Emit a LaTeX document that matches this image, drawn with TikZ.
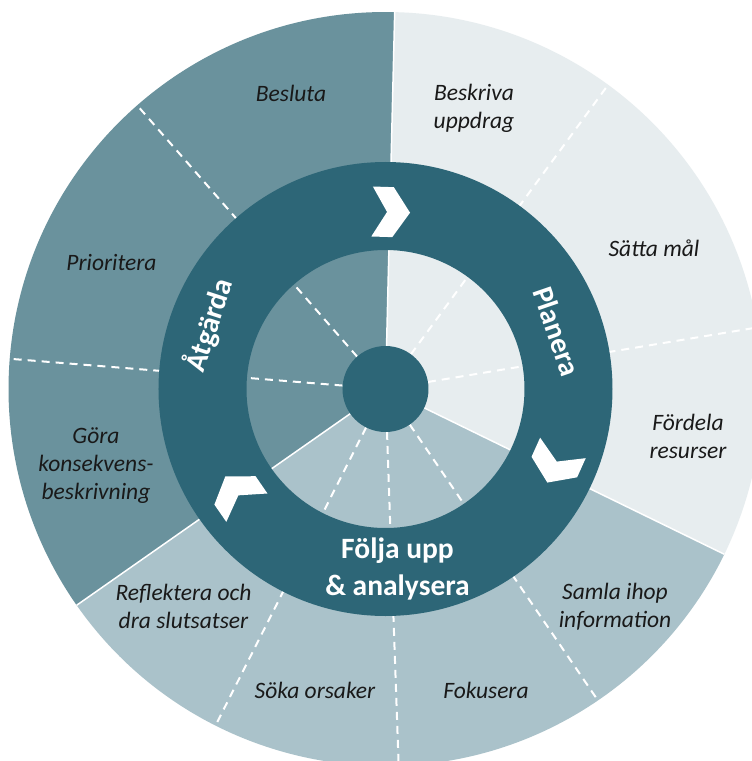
\documentclass[tikz,border=0pt]{standalone}
\usepackage{fontspec}
\setmainfont{Carlito}
\definecolor{ringc}{HTML}{2D6677}
\definecolor{atgc}{HTML}{6A929D}
\definecolor{planc}{HTML}{E7EDEF}
\definecolor{foljc}{HTML}{AAC2CA}
\tikzset{
  sepline/.style={white, line width=2pt, dash pattern=on 8pt off 6pt},
  bound/.style={white, line width=1.5pt},
  lbl/.style={font=\fontsize{23.5}{28}\selectfont\itshape, align=center, inner sep=0pt, text=black!90},
  phase/.style={font=\fontsize{29.5}{37}\selectfont\bfseries, text=white, align=center, inner sep=0pt},
  chevron/.style={white}
}
\begin{document}
\begin{tikzpicture}[x=1pt,y=1pt]
\clip (-385.5,-372) rectangle (366.5,389);
\fill[white] (-385.5,-372) rectangle (366.5,389);
% sectors
\def\R{377}
\fill[planc] (0,0) -- (-26:\R) arc[start angle=-26, end angle=88.6, radius=\R] -- cycle;
\fill[atgc] (0,0) -- (88.6:\R) arc[start angle=88.6, end angle=215, radius=\R] -- cycle;
\fill[foljc] (0,0) -- (215:\R) arc[start angle=215, end angle=334, radius=\R] -- cycle;
% dashed separators
\foreach \a in {131.2,175.4,53.8,9.4,-55.7,-88,243.2}{
  \draw[sepline] (\a:43) -- (\a:\R);
}
% sector boundaries
\foreach \a in {88.6,-26,215}{
  \draw[bound] (0,0) -- (\a:\R);
}
% ring and hub
\fill[ringc, even odd rule] (0,0) circle[radius=227] (0,0) circle[radius=139];
\fill[ringc] (0,0) circle[radius=43];
% chevrons
\fill[chevron, shift={(88.2:177)}, rotate=-1.8] (19,0) -- (2,25) -- (-19,25) -- (-4,0) -- (-19,-25) -- (2,-25) -- cycle;
\fill[chevron, shift={(-24.2:186)}, rotate=-114.2] (19,0) -- (2,25) -- (-19,25) -- (-4,0) -- (-19,-25) -- (2,-25) -- cycle;
\fill[chevron, shift={(214.6:181.5)}, rotate=124.6] (19,0) -- (2,25) -- (-19,25) -- (-4,0) -- (-19,-25) -- (2,-25) -- cycle;
% phase labels
\node[phase, rotate=-71] (planera) at (18.5:181) {Planera};
\node[phase, rotate=72] (atgarda) at (160:188) {Åtgärda};
\node[phase] (folja) at (12,-180) {Följa upp\\\& analysera};
% step labels
\node[lbl] (besluta) at (-94.5,296) {Besluta};
\node[lbl] (prioritera) at (-274,126) {Prioritera};
\node[lbl] (beskriva) at (88.5,280.5) {Beskriva\\uppdrag};
\node[lbl] (satta) at (268.5,141) {Sätta mål};
\node[lbl] (fordela) at (302.5,-47) {Fördela\\resurser};
\node[lbl] (gora) at (-289.5,-76.5) {Göra\\konsekvens-\\beskrivning};
\node[lbl] (reflektera) at (-202,-217.5) {Reflektera och\\dra slutsatser};
\node[lbl] (soka) at (-70.5,-301) {Söka orsaker};
\node[lbl] (fokusera) at (100.5,-301) {Fokusera};
\node[lbl] (samla) at (229.5,-217.5) {Samla ihop\\information};
\end{tikzpicture}
\end{document}
